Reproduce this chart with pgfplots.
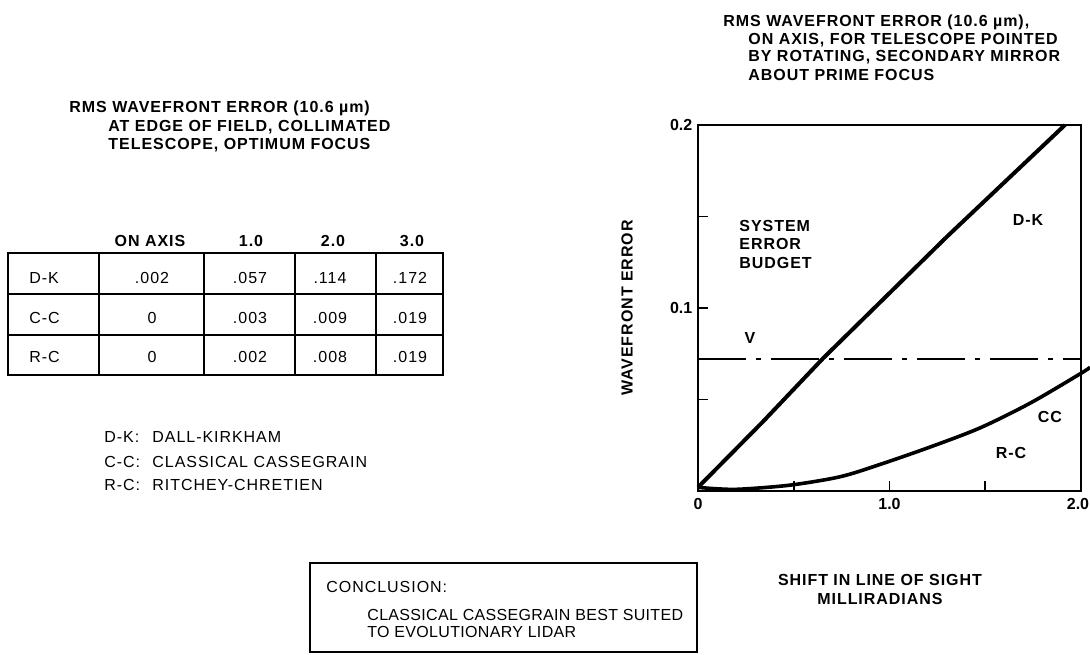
\documentclass[border=0pt]{standalone}
\usepackage{fontspec}
\setmainfont{Liberation Sans}[LetterSpace=6]
\newfontfamily\lightfont{Liberation Sans}[LetterSpace=2]
\newfontfamily\tickfont{Liberation Sans}
\usepackage{pgfplots}
\pgfplotsset{compat=1.18}

\newcommand{\txt}{\fontsize{8}{9.6}\selectfont}

\begin{document}
\begin{tikzpicture}
\txt
\useasboundingbox (0,0) rectangle (545pt,-327pt);

\begin{axis}[
  at={(349pt,-245.5pt)}, anchor=south west,
  scale only axis, width=191.5pt, height=183pt,
  xmin=0, xmax=2, ymin=0, ymax=0.2,
  clip=false,
  axis line style={line width=1pt},
  tick style={line width=0.8pt, black},
  major tick length=5pt,
  tick align=inside,
  xtick={0,0.5,1,1.5,2}, xticklabels={0,,1.0,,2.0\kern3pt},
  ytick={0.05,0.1,0.15,0.2}, yticklabels={,0.1,,0.2},
  xtick pos=bottom, ytick pos=left,
  /pgf/number format/assume math mode=true,
  ticklabel style={font=\tickfont\txt\bfseries},
  xticklabel style={yshift=-1pt},
  ylabel={WAVEFRONT ERROR},
  ylabel style={at={(axis description cs:-0.185,0.5)}, anchor=center, font=\txt\bfseries},
  xlabel={SHIFT IN LINE OF SIGHT\\MILLIRADIANS},
  xlabel style={at={(axis description cs:0.475,-0.27)}, anchor=center, align=center, font=\txt\bfseries},
]
% D-K
\addplot[black, line width=2pt] coordinates {
  (0,0.002) (0.34,0.038) (0.653,0.0725) (1.3,0.139) (1.916,0.2)
};
% CC / R-C
\addplot[black, line width=1.8pt, smooth] coordinates {
  (0,0.002) (0.1,0.0012) (0.22,0.001) (0.48,0.0032) (0.742,0.0078) (0.95,0.0145)
  (1.211,0.024) (1.473,0.0345) (1.734,0.048) (1.995,0.064) (2.047,0.0676)
};
% system error budget
\addplot[black, line width=0.8pt, dash pattern=on 24pt off 5pt on 2.5pt off 5pt] coordinates {
  (0,0.0722) (2,0.0722)
};
\end{axis}

\begin{scope}[x=0.5pt, y=-0.5pt, every node/.style={inner sep=0pt}]
  % right title
  \begin{scope}[font=\txt\bfseries]
  \node[anchor=west] at (723,22) {RMS WAVEFRONT ERROR (10.6 µm),};
  \node[anchor=west] at (748,40) {ON AXIS, FOR TELESCOPE POINTED};
  \node[anchor=west] at (748,57) {BY ROTATING, SECONDARY MIRROR};
  \node[anchor=west] at (748,75) {ABOUT PRIME FOCUS};
  % in-plot labels
  \node[anchor=west] at (739,226) {SYSTEM};
  \node[anchor=west] at (739,244) {ERROR};
  \node[anchor=west] at (739,263) {BUDGET};
  \node at (1028,220) {D-K};
  \node at (750,338) {V};
  \node at (1050,417) {CC};
  \node at (1011,453) {R-C};
  % left title
  \node[anchor=west] at (69,108) {RMS WAVEFRONT ERROR (10.6 µm)};
  \node[anchor=west] at (108,127) {AT EDGE OF FIELD, COLLIMATED};
  \node[anchor=west] at (108,145) {TELESCOPE, OPTIMUM FOCUS};
  % table header
  \node at (150,241) {ON AXIS};
  \node at (251,241) {1.0};
  \node at (333,241) {2.0};
  \node at (412,241) {3.0};
  \end{scope}

  % table
  \draw[line width=1pt] (8,253) rectangle (443,375);
  \draw[line width=0.8pt] (8,294) -- (443,294) (8,335) -- (443,335);
  \draw[line width=0.8pt] (99,253) -- (99,375) (204,253) -- (204,375)
     (295,253) -- (295,375) (376,253) -- (376,375);
  \foreach \lab/\a/\b/\c/\d/\y in {D-K/.002/.057/.114/.172/278, C-C/0/.003/.009/.019/318, R-C/0/.002/.008/.019/357}{
    \node[anchor=west] at (29,\y) {\lab};
    \node at (152,\y) {\a};
    \node at (250,\y) {\b};
    \node at (330,\y) {\c};
    \node at (410,\y) {\d};
  }

  % glossary
  \node[anchor=west] at (104,437) {D-K:};
  \node[anchor=west] at (152,437) {DALL-KIRKHAM};
  \node[anchor=west] at (104,462) {C-C:};
  \node[anchor=west] at (152,462) {CLASSICAL CASSEGRAIN};
  \node[anchor=west] at (104,485) {R-C:};
  \node[anchor=west] at (152,485) {RITCHEY-CHRETIEN};

  % conclusion box
  \draw[line width=1pt] (310,563) rectangle (697,652);
  \node[anchor=west] at (326,587) {CONCLUSION:};
  \begin{scope}[font=\lightfont\txt]
  \node[anchor=west] at (367,615) {CLASSICAL CASSEGRAIN BEST SUITED};
  \node[anchor=west] at (367,632) {TO EVOLUTIONARY LIDAR};
  \end{scope}
\end{scope}
\end{tikzpicture}
\end{document}
